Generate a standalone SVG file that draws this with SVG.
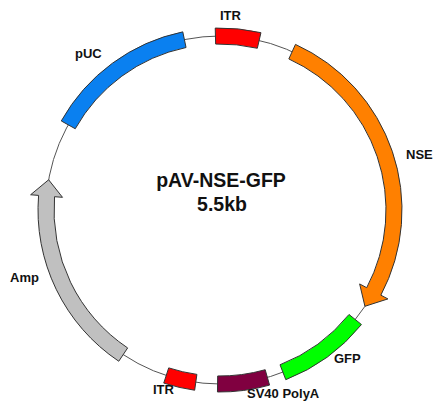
<svg xmlns="http://www.w3.org/2000/svg" width="442" height="413" viewBox="0 0 442 413">
<style>
.feat{stroke:#333;stroke-width:1;stroke-linejoin:miter}
.lbl{font-family:"Liberation Sans",Arial,sans-serif;font-size:13px;font-weight:bold;fill:#111}
.title{font-family:"Liberation Sans",Arial,sans-serif;font-size:19.5px;font-weight:bold;fill:#111;text-anchor:middle}
</style>
<rect width="442" height="413" fill="#fff"/>
<g id="connectors">
<circle cx="220" cy="210" r="174" fill="none" stroke="#555" stroke-width="1"/>
</g>
<g id="itr-top">
<path class="feat" fill="#FF0000" d="M215.24,28.06 A182,182 0 0 1 260.94,32.66 L257.34,48.25 A166,166 0 0 0 215.65,44.06 Z"/>
<text class="lbl" x="220" y="20">ITR</text>
</g>
<g id="nse">
<path class="feat" fill="#FF8000" d="M295.47,44.39 A182,182 0 0 1 380.85,295.16 L387.92,298.91 L364.93,306.29 L359.64,283.93 L366.71,287.68 A166,166 0 0 0 288.84,58.95 Z"/>
<text class="lbl" x="406" y="159">NSE</text>
</g>
<g id="gfp">
<path class="feat" fill="#00FF00" d="M361.44,324.54 A182,182 0 0 1 285.81,379.68 L280.03,364.77 A166,166 0 0 0 349.01,314.47 Z"/>
<text class="lbl" x="334" y="363">GFP</text>
</g>
<g id="sv40">
<path class="feat" fill="#800040" d="M269.56,385.12 A182,182 0 0 1 217.46,391.98 L217.68,375.98 A166,166 0 0 0 265.20,369.73 Z"/>
<text class="lbl" x="247" y="398">SV40 PolyA</text>
</g>
<g id="itr-bottom">
<path class="feat" fill="#FF0000" d="M194.67,390.23 A182,182 0 0 1 163.76,383.09 L168.70,367.88 A166,166 0 0 0 196.90,374.38 Z"/>
<text class="lbl" x="153" y="394">ITR</text>
</g>
<g id="amp">
<path class="feat" fill="#C0C0C0" d="M118.75,361.24 A182,182 0 0 1 38.59,195.40 L30.61,194.76 L48.64,179.79 L62.51,197.33 L54.53,196.69 A166,166 0 0 0 127.65,347.94 Z"/>
<text class="lbl" x="10" y="282">Amp</text>
</g>
<g id="puc">
<path class="feat" fill="#0A80F0" d="M61.28,120.93 A182,182 0 0 1 182.78,31.85 L186.05,47.51 A166,166 0 0 0 75.24,128.76 Z"/>
<text class="lbl" x="75" y="58">pUC</text>
</g>
<g id="title">
<text class="title" x="221" y="187">pAV-NSE-GFP</text>
<text class="title" x="222" y="211">5.5kb</text>
</g>
</svg>
